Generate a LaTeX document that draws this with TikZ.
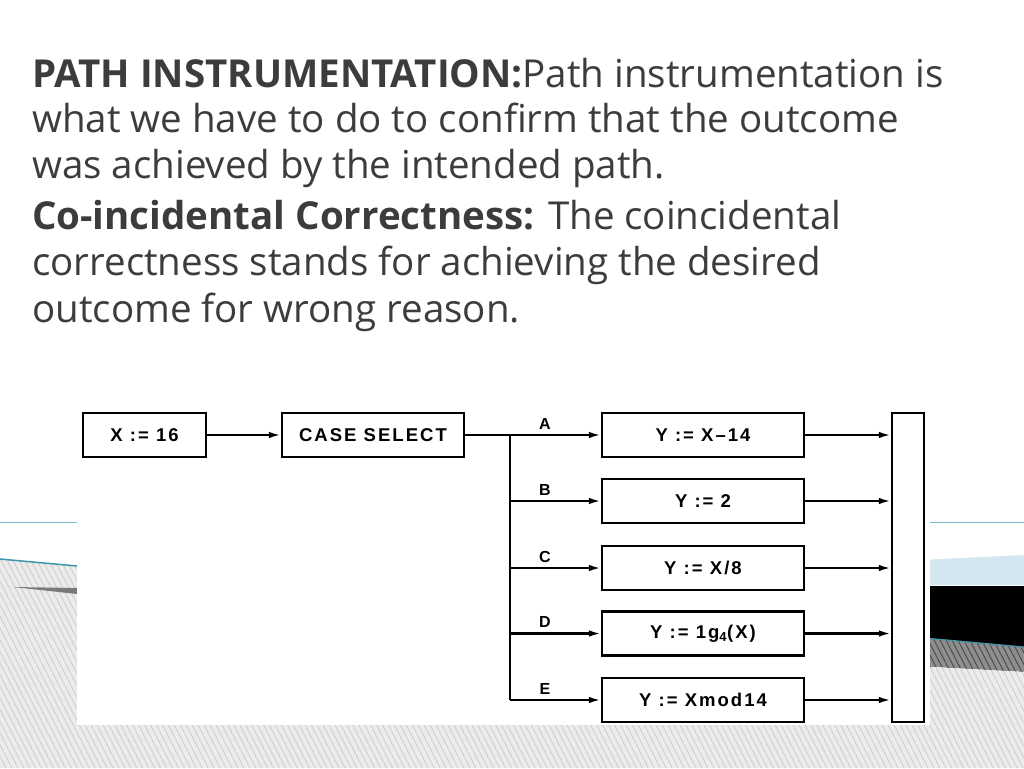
\documentclass[tikz,border=0pt]{standalone}
\usepackage{fontspec}
\setmainfont{Open Sans}
\newfontfamily\figfont{Liberation Sans}[LetterSpace=11]
\usetikzlibrary{arrows.meta,patterns.meta}
\definecolor{slidetext}{HTML}{3C3C3C}
\definecolor{tealline}{HTML}{3F95AA}
\definecolor{paleteal}{HTML}{7DB9C8}
\definecolor{paleblue}{HTML}{D4E6EF}
\definecolor{hatchbg}{HTML}{ECECEC}
\definecolor{hatchfg}{HTML}{CDCDCD}
\definecolor{darkhatch}{HTML}{7A7A7A}
\tikzset{
  slideline/.style={anchor=base west,inner sep=0pt,text=slidetext,font=\fontsize{38.5}{38.5}\selectfont},
  flowbox/.style={draw,line width=2.2pt,minimum height=44pt,inner sep=0pt,font=\figfont\bfseries\fontsize{18.5}{18.5}\selectfont},
  flowline/.style={line width=2.2pt},
  flowarrow/.style={line width=2.2pt,-{Latex[length=12pt,width=6.5pt]}},
  tag/.style={inner sep=0pt,font=\figfont\bfseries\fontsize{16}{16}\selectfont},
  hatched/.style={pattern={Lines[angle=-63,distance=5.3pt,line width=0.9pt]},pattern color=#1}
}
\begin{document}
\begin{tikzpicture}[x=1pt,y=-1pt]
\useasboundingbox (0,0) rectangle (1024,768);
% slide background
\fill[white] (0,0) rectangle (1024,768);
\draw[paleteal,line width=1pt] (0,522) -- (1024,522);
\fill[paleblue] (880,562) -- (1024,555) -- (1024,585) -- (880,585) -- cycle;
\fill[black] (880,586) -- (1024,586) -- (1024,647) -- (880,634) -- cycle;
\fill[darkhatch!85] (880,634) -- (1024,647) -- (1024,672) -- (880,664) -- cycle;
\fill[hatched=darkhatch!60!black] (880,634) -- (1024,647) -- (1024,672) -- (880,664) -- cycle;
\draw[tealline,line width=1.2pt] (880,634) -- (1024,647);
\fill[hatchbg] (0,559) -- (77,566) -- (930,667) -- (1024,672) -- (1024,768) -- (0,768) -- cycle;
\fill[hatched=hatchfg] (0,559) -- (77,566) -- (930,667) -- (1024,672) -- (1024,768) -- (0,768) -- cycle;
\draw[tealline,line width=1.5pt] (0,559) -- (77,566);
\fill[darkhatch] (13,587) -- (77,588) -- (77,594) -- cycle;
% text
\node[slideline] (pathhead) at (32,87) {\textbf{PATH INSTRUMENTATION:}Path instrumentation is};
\node[slideline] (pathtwo) at (32,132) {what we have to do to confirm that the outcome};
\node[slideline] (paththree) at (32,178) {was achieved by the intended path.};
\node[slideline] (cohead) at (32,229) {\textbf{Co-incidental Correctness:} The coincidental};
\node[slideline] (cotwo) at (32,275) {correctness stands for achieving the desired};
\node[slideline] (cothree) at (32,322) {outcome for wrong reason.};
% the figure
\fill[white] (77,395) rectangle (930,725);
\node[flowbox,minimum width=123pt] (init) at (144.5,435) {X := 16};
\node[flowbox,minimum width=182pt] (select) at (373,435) {CASE SELECT};
\node[flowbox,minimum width=32pt,minimum height=309pt] (join) at (908,567.5) {};
\draw[flowarrow] (init) -- (select);
\foreach \case/\ypos/\stmt in {A/435/{Y := X\textendash14},B/501/{Y := 2},C/568/{Y := X/8},
    D/633.5/{Y := 1g\textsubscript{4}(X)},E/700/{Y := Xmod14}} {
  \coordinate (tap\case) at (510,\ypos);
  \node[flowbox,minimum width=202pt] (case\case) at (703,\ypos) {\stmt};
  \node[tag,anchor=base] (lab\case) at (545,\ypos-6) {\case};
  \draw[flowarrow] (tap\case) -- (case\case);
  \draw[flowarrow] (case\case) -- (case\case -| join.west);
}
\draw[flowline] (select) -- (tapA) -- (tapE);
\end{tikzpicture}
\end{document}
